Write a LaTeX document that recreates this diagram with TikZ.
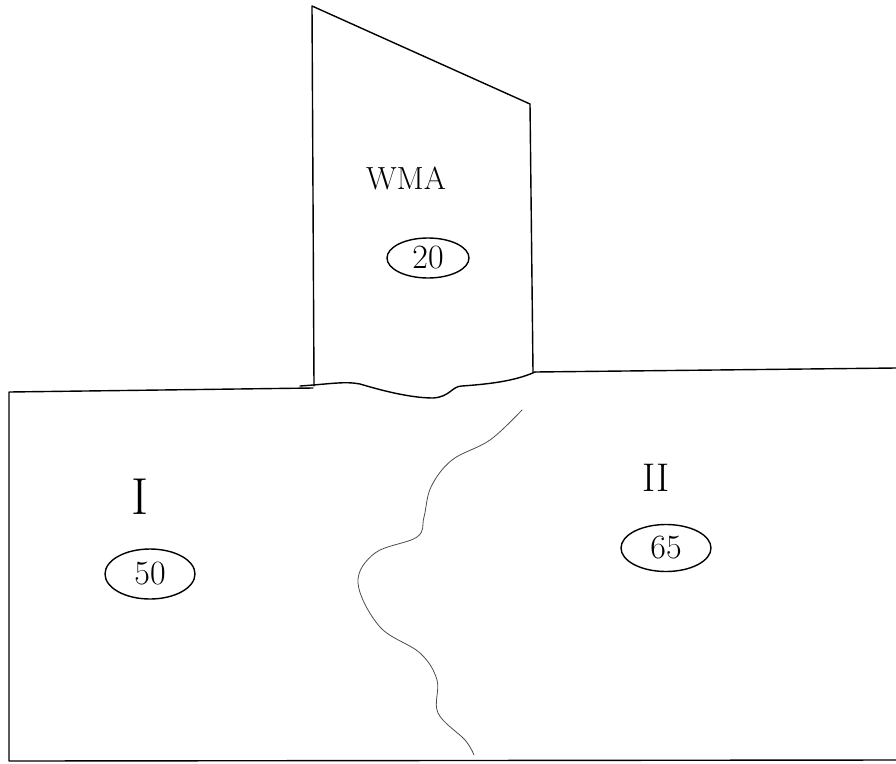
\documentclass[tikz,border=0pt]{standalone}
\usetikzlibrary{shapes.geometric}
\begin{document}
\begin{tikzpicture}[x=1pt,y=-1pt,
  edge/.style={line width=1.4pt,line join=round,line cap=round},
  divider/.style={line width=0.8pt,black!70,line cap=round},
  roman/.style={font=\fontsize{52}{52}\selectfont,inner sep=0pt},
  ringlbl/.style={draw,ellipse,line width=1.4pt,inner sep=0pt,font=\fontsize{34}{34}\selectfont},
  namelbl/.style={font=\fontsize{32}{32}\selectfont,inner sep=0pt}]
\useasboundingbox (0,0) rectangle (896,763);
% outer land
\draw[edge] (313,388) -- (9,392) -- (9,761) -- (896,760);
\draw[edge] (535,372) -- (896,368);
% WMA parcel
\draw[edge] (314,386) -- (312,6) -- (530,104) -- (533,372);
\draw[edge] (300,386) .. controls (330,384) and (345,381) .. (360,384)
  .. controls (380,390) and (410,398) .. (433,398)
  .. controls (450,397) and (452,386) .. (462,386)
  .. controls (490,384) and (515,381) .. (535,372);
% divider between I and II
\draw[divider] plot[smooth,tension=0.6] coordinates {(522,410) (490,440) (452,460) (431,487) (424,517) (417,537) (375,553) (358,583) (380,627) (420,653) (437,680) (438,713) (465,740) (474,755)};
% labels
\node[namelbl] (wma) at (406,178) {WMA};
\node[ringlbl,minimum width=82pt,minimum height=40pt] (w20) at (428,258) {20};
\node[roman] (r1) at (140,497) {I};
\node[ringlbl,minimum width=90pt,minimum height=50pt] (c50) at (150,574) {50};
\node[roman,font=\fontsize{40}{40}\selectfont] (r2) at (656,478) {II};
\node[ringlbl,minimum width=90pt,minimum height=47pt] (c65) at (666,548) {65};
\end{tikzpicture}
\end{document}
